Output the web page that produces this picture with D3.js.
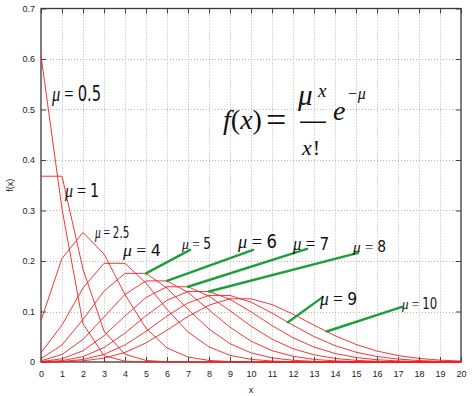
<!DOCTYPE html>
<html>
<head>
<meta charset="utf-8">
<script src="https://cdn.jsdelivr.net/npm/d3@7"></script>
<style>
    body { margin: 0; background: #fff; }
    svg { display: block; }
    .tick text { font-family: "Liberation Sans", Arial, sans-serif; font-size: 9px; fill: #222; }
    .tick line { stroke: #444; }
</style>
</head>
<body>
<div id="chart"></div>
<script>
// Poisson-fordelinger f(x) = mu^x / x! * e^-mu, aflæst ved heltallige x

const xValues = [0, 1, 2, 3, 4, 5, 6, 7, 8, 9, 10, 11, 12, 13, 14, 15, 16, 17, 18, 19, 20];

const mu05 = [0.6065, 0.3033, 0.0758, 0.0126, 0.0016, 0.0002, 0, 0, 0, 0, 0, 0, 0, 0, 0, 0, 0, 0, 0, 0, 0];
const mu1  = [0.3679, 0.3679, 0.1839, 0.0613, 0.0153, 0.0031, 0.0005, 0.0001, 0, 0, 0, 0, 0, 0, 0, 0, 0, 0, 0, 0, 0];
const mu25 = [0.0821, 0.2052, 0.2565, 0.2138, 0.1336, 0.0668, 0.0278, 0.0099, 0.0031, 0.0009, 0.0002, 0, 0, 0, 0, 0, 0, 0, 0, 0, 0];
const mu4  = [0.0183, 0.0733, 0.1465, 0.1954, 0.1954, 0.1563, 0.1042, 0.0595, 0.0298, 0.0132, 0.0053, 0.0019, 0.0006, 0.0002, 0.0001, 0, 0, 0, 0, 0, 0];
const mu5  = [0.0067, 0.0337, 0.0842, 0.1404, 0.1755, 0.1755, 0.1462, 0.1044, 0.0653, 0.0363, 0.0181, 0.0082, 0.0034, 0.0013, 0.0005, 0.0002, 0, 0, 0, 0, 0];
const mu6  = [0.0025, 0.0149, 0.0446, 0.0892, 0.1339, 0.1606, 0.1606, 0.1377, 0.1033, 0.0688, 0.0413, 0.0225, 0.0113, 0.0052, 0.0022, 0.0009, 0.0003, 0.0001, 0, 0, 0];
const mu7  = [0.0009, 0.0064, 0.0223, 0.0521, 0.0912, 0.1277, 0.1490, 0.1490, 0.1304, 0.1014, 0.0710, 0.0452, 0.0263, 0.0142, 0.0071, 0.0033, 0.0014, 0.0006, 0.0002, 0.0001, 0];
const mu8  = [0.0003, 0.0027, 0.0107, 0.0286, 0.0573, 0.0916, 0.1221, 0.1396, 0.1396, 0.1241, 0.0993, 0.0722, 0.0481, 0.0296, 0.0169, 0.0090, 0.0045, 0.0021, 0.0009, 0.0004, 0.0002];
const mu9  = [0.0001, 0.0011, 0.0050, 0.0150, 0.0337, 0.0607, 0.0911, 0.1171, 0.1318, 0.1318, 0.1186, 0.0970, 0.0728, 0.0504, 0.0324, 0.0194, 0.0109, 0.0058, 0.0029, 0.0014, 0.0006];
const mu10 = [0.0000, 0.0005, 0.0023, 0.0076, 0.0189, 0.0378, 0.0631, 0.0901, 0.1126, 0.1251, 0.1251, 0.1137, 0.0948, 0.0729, 0.0521, 0.0347, 0.0217, 0.0128, 0.0071, 0.0037, 0.0019];

const series = [mu05, mu1, mu25, mu4, mu5, mu6, mu7, mu8, mu9, mu10];
const muLabels = ["0.5", "1", "2.5", "4", "5", "6", "7", "8", "9", "10"];

const xTicks = [0, 1, 2, 3, 4, 5, 6, 7, 8, 9, 10, 11, 12, 13, 14, 15, 16, 17, 18, 19, 20];
const yTicks = [0, 0.1, 0.2, 0.3, 0.4, 0.5, 0.6, 0.7];
const yTickLabels = ["0", "0.1", "0.2", "0.3", "0.4", "0.5", "0.6", "0.7"];

// Placering af mu-etiketter (data-enheder), skriftstørrelse, bredde og evt. pegelinje
const labelLayout = [
    { x: 0.52, y: 0.517, size: 22, w: 50 },
    { x: 1.14, y: 0.327, size: 19, w: 35 },
    { x: 2.57, y: 0.246, size: 16, w: 35 },
    { x: 3.90, y: 0.210, size: 16, w: 39 },
    { x: 6.71, y: 0.224, size: 15, w: 30, tip: 5,     end: [7.10, 0.222] },
    { x: 9.38, y: 0.226, size: 19, w: 40, tip: 6,     end: [10.10, 0.222] },
    { x: 12.0, y: 0.222, size: 18, w: 37, tip: 7,     end: [12.67, 0.224] },
    { x: 14.86, y: 0.218, size: 15, w: 34, tip: 8,    end: [15.10, 0.216] },
    { x: 13.29, y: 0.113, size: 18, w: 38, tip: 11.76, end: [13.43, 0.129] },
    { x: 17.19, y: 0.105, size: 15, w: 36, tip: 13.6, end: [17.19, 0.109] }
];

const serif = "Liberation Serif, DejaVu Serif, Times New Roman, serif";
const narrow = "Liberation Sans Narrow, DejaVu Sans Condensed, Liberation Sans, sans-serif";

const width = 474;
const height = 396;
const plot = { left: 41, right: 461, top: 8.5, bottom: 362 };

const x = d3.scaleLinear().domain([0, 20]).range([plot.left, plot.right]);
const y = d3.scaleLinear().domain([0, 0.7]).range([plot.bottom, plot.top]);

const svg = d3.select("#chart")
    .append("svg")
    .attr("width", width)
    .attr("height", height);

// Gitterlinjer (prikkede)
const grid = svg.append("g").attr("stroke", "#b5b5b5").attr("stroke-dasharray", "1,2").attr("stroke-width", 1);
grid.selectAll(".gx")
    .data(xTicks.slice(1, -1))
    .enter().append("line")
    .attr("x1", d => Math.round(x(d)) + 0.5).attr("x2", d => Math.round(x(d)) + 0.5)
    .attr("y1", plot.top).attr("y2", plot.bottom);
grid.selectAll(".gy")
    .data(yTicks.slice(1, -1))
    .enter().append("line")
    .attr("x1", plot.left).attr("x2", plot.right)
    .attr("y1", d => Math.round(y(d)) + 0.5).attr("y2", d => Math.round(y(d)) + 0.5);

// Akser med indadvendte ticks på alle fire sider
const fmtY = d => yTickLabels[yTicks.indexOf(d)];
svg.append("g").attr("transform", `translate(0,${plot.bottom})`)
    .call(d3.axisBottom(x).tickValues(xTicks).tickSize(-5).tickPadding(9))
    .call(g => g.select(".domain").remove());
svg.append("g").attr("transform", `translate(${plot.left},0)`)
    .call(d3.axisLeft(y).tickValues(yTicks).tickFormat(fmtY).tickSize(-5).tickPadding(6))
    .call(g => g.select(".domain").remove());
svg.append("g").attr("transform", `translate(0,${plot.top})`)
    .call(d3.axisTop(x).tickValues(xTicks).tickSize(-5).tickFormat(""))
    .call(g => g.select(".domain").remove());
svg.append("g").attr("transform", `translate(${plot.right},0)`)
    .call(d3.axisRight(y).tickValues(yTicks).tickSize(-5).tickFormat(""))
    .call(g => g.select(".domain").remove());

// Ramme
svg.append("rect")
    .attr("x", plot.left).attr("y", plot.top)
    .attr("width", plot.right - plot.left).attr("height", plot.bottom - plot.top)
    .attr("fill", "none").attr("stroke", "#3a3a3a").attr("stroke-width", 1.3);

// Kurver
const line = d3.line()
    .x((d, i) => x(xValues[i]))
    .y(d => y(d));

svg.append("g")
    .selectAll("path")
    .data(series)
    .enter().append("path")
    .attr("d", line)
    .attr("fill", "none")
    .attr("stroke", "#f02020")
    .attr("stroke-width", 0.9);

// Pegelinjer
labelLayout.forEach((l, i) => {
    if (l.tip === undefined) return;
    const curve = d3.scaleLinear().domain(xValues).range(series[i]);
    svg.append("line")
        .attr("x1", x(l.tip)).attr("y1", y(curve(l.tip)))
        .attr("x2", x(l.end[0])).attr("y2", y(l.end[1]))
        .attr("stroke", "#1e9e3c")
        .attr("stroke-width", 2.4)
        .attr("stroke-linecap", "round");
});

// Mu-etiketter, presset sammen til målt bredde
labelLayout.forEach((l, i) => {
    const g = svg.append("g");
    const t = g.append("text").attr("font-size", l.size).attr("fill", "#111");
    t.append("tspan").attr("font-family", serif).attr("font-style", "italic").text("μ");
    t.append("tspan").attr("font-family", serif).text(" = ");
    t.append("tspan").attr("font-family", narrow).text(muLabels[i]);
    const bw = t.node().getBBox().width;
    g.attr("transform", `translate(${x(l.x)},${y(l.y)}) scale(${l.w / bw},1)`);
});

// Formel
const f = svg.append("g")
    .attr("font-family", serif)
    .attr("fill", "#111")
    .attr("transform", `translate(${x(8.67)},${y(0.455)})`);

function piece(txt, size, dx, dy, italic) {
    return f.append("text")
        .attr("font-size", size)
        .attr("font-style", italic ? "italic" : "normal")
        .attr("x", dx).attr("y", dy)
        .text(txt);
}

const t1 = f.append("text").attr("font-size", 28).attr("y", -3);
t1.append("tspan").attr("font-style", "italic").text("f");
t1.append("tspan").text("(");
t1.append("tspan").attr("font-style", "italic").text("x");
t1.append("tspan").text(")");
piece("=", 36, 43, 0, false);
piece("μ", 29, 75, -27, true);
piece("x", 19, 95, -35, true);
f.append("line").attr("x1", 77).attr("x2", 103).attr("y1", -10).attr("y2", -10)
    .attr("stroke", "#111").attr("stroke-width", 1.5);
const t2 = f.append("text").attr("font-size", 22).attr("x", 79).attr("y", 23);
t2.append("tspan").attr("font-style", "italic").text("x");
t2.append("tspan").attr("dx", 1).text("!");
piece("e", 28, 110, -12, true);
piece("−μ", 16, 124, -33, true);

// Aksetitler
svg.append("text")
    .attr("x", x(10)).attr("y", 393)
    .attr("text-anchor", "middle")
    .attr("font-family", "Liberation Sans, Arial, sans-serif")
    .attr("font-size", 9).attr("fill", "#222")
    .text("x");
svg.append("text")
    .attr("transform", `translate(13,${y(0.35)}) rotate(-90)`)
    .attr("text-anchor", "middle")
    .attr("font-family", "Liberation Sans, Arial, sans-serif")
    .attr("font-size", 9).attr("fill", "#222")
    .text("f(x)");
</script>
</body>
</html>
